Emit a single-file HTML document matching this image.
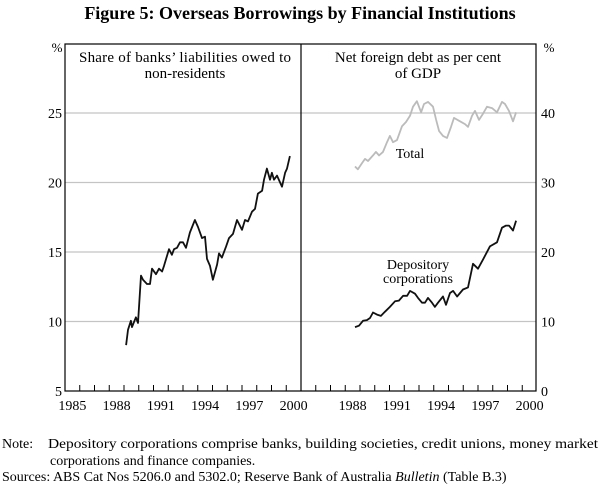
<!DOCTYPE html>
<html><head><meta charset="utf-8"><style>
body{margin:0;background:#fff;width:600px;height:491px;overflow:hidden;font-family:"Liberation Serif",serif;}
</style></head><body>
<svg width="600" height="491" xmlns="http://www.w3.org/2000/svg" font-family="Liberation Serif, serif">
<text x="300" y="19" text-anchor="middle" font-size="18" font-weight="bold">Figure 5: Overseas Borrowings by Financial Institutions</text>
<g id="grid"></g>
<g id="axes"></g>
<g id="series"></g>
<text x="185" y="62" text-anchor="middle" font-size="15"><tspan x="185" textLength="212">Share of banks’ liabilities owed to</tspan><tspan x="185" dy="16">non-residents</tspan></text>
<text x="418" y="62" text-anchor="middle" font-size="15"><tspan x="418">Net foreign debt as per cent</tspan><tspan x="418" dy="16">of GDP</tspan></text>
<text x="57" y="52" text-anchor="middle" font-size="13">%</text>
<text x="549" y="52" text-anchor="middle" font-size="13">%</text>
<text x="410" y="158" text-anchor="middle" font-size="14">Total</text>
<text x="418" y="269" text-anchor="middle" font-size="14"><tspan x="418">Depository</tspan><tspan x="418" dy="14">corporations</tspan></text>
<text x="2" y="448" font-size="14">Note:</text>
<text x="48" y="448" font-size="14" textLength="550" lengthAdjust="spacingAndGlyphs">Depository corporations comprise banks, building societies, credit unions, money market</text>
<text x="50" y="465" font-size="14">corporations and finance companies.</text>
<text x="2" y="481" font-size="14">Sources: ABS Cat Nos 5206.0 and 5302.0; Reserve Bank of Australia <tspan font-style="italic">Bulletin</tspan> (Table B.3)</text>
</svg>
<script>
const leftTicks=[5,10,15,20,25];
const rightTicks=[0,10,20,30,40];
const yearLabels=[1985,1988,1991,1994,1997,2000];
const rightYearLabels=[1988,1991,1994,1997,2000];
const bankDates=[1989.14,1989.27,1989.47,1989.54,1989.81,1989.95,1990.15,1990.29,1990.56,1990.76,1990.90,1991.17,1991.37,1991.58,1991.71,1992.05,1992.25,1992.39,1992.59,1992.80,1993.0,1993.20,1993.47,1993.81,1994.02,1994.29,1994.49,1994.63,1994.83,1995.03,1995.31,1995.44,1995.64,1995.92,1996.12,1996.39,1996.66,1997.0,1997.20,1997.41,1997.68,1997.88,1998.08,1998.36,1998.49,1998.69,1998.90,1999.03,1999.17,1999.37,1999.71,1999.92,2000.05,2000.25];
const bankValues=[8.3,9.4,10.05,9.6,10.3,9.9,13.3,13.0,12.7,12.7,13.8,13.4,13.8,13.6,14.0,15.2,14.8,15.2,15.3,15.7,15.7,15.3,16.4,17.3,16.8,16.0,16.1,14.5,14.0,13.0,14.1,14.9,14.6,15.4,16.0,16.3,17.3,16.6,17.3,17.2,17.9,18.1,19.2,19.4,20.2,21.0,20.2,20.7,20.2,20.5,19.7,20.7,21.0,21.9];
const totalDates=[1988.66,1988.86,1989.14,1989.34,1989.54,1989.88,1990.08,1990.29,1990.56,1990.83,1991.03,1991.24,1991.51,1991.85,1992.12,1992.39,1992.59,1992.86,1993.14,1993.34,1993.61,1993.95,1994.15,1994.36,1994.63,1994.90,1995.17,1995.37,1995.78,1996.12,1996.32,1996.59,1996.80,1997.07,1997.34,1997.61,1997.95,1998.29,1998.63,1998.83,1999.10,1999.37,1999.58];
const totalValues=[32.3,31.9,32.8,33.4,33.1,33.9,34.4,33.9,34.4,35.8,36.7,35.8,36.1,38.1,38.7,39.6,40.9,41.7,40.1,41.3,41.6,40.9,39.1,37.4,36.7,36.4,38.0,39.3,38.8,38.4,38.0,39.6,40.3,39.0,39.9,40.9,40.7,40.1,41.6,41.3,40.3,38.8,40.1];
const depDates=[1988.66,1988.93,1989.20,1989.47,1989.68,1989.88,1990.15,1990.42,1990.69,1991.03,1991.37,1991.64,1991.92,1992.19,1992.39,1992.73,1992.93,1993.20,1993.41,1993.61,1993.88,1994.08,1994.29,1994.63,1994.83,1995.10,1995.31,1995.58,1995.98,1996.32,1996.66,1997.0,1997.34,1997.81,1998.29,1998.63,1998.90,1999.10,1999.37,1999.58];
const depValues=[9.2,9.4,10.1,10.2,10.5,11.3,11.0,10.8,11.4,12.1,12.9,13.0,13.7,13.7,14.4,14.0,13.4,12.7,12.7,13.4,12.7,12.1,12.7,13.6,12.4,14.1,14.4,13.6,14.6,14.9,18.3,17.6,18.9,20.8,21.4,23.5,23.8,23.8,23.1,24.5];

const NS='http://www.w3.org/2000/svg';
const L=65,M=301,R=536,T=44,B=391,YW=(M-L)/16;
const xL=y=>L+(y-1985)*YW, xR=y=>M+(y-1985)*YW;
const yL=v=>B-(v-5)*(B-113)/20, yR=v=>B-v*(B-113)/40;
function mk(tag,attrs,parent){const e=document.createElementNS(NS,tag);for(const k in attrs)e.setAttribute(k,attrs[k]);document.getElementById(parent).appendChild(e);return e;}

leftTicks.forEach(v=>{
  if(v>5){const g=mk('line',{x1:L,x2:R,y1:yL(v),y2:yL(v),stroke:'#c4c4c4','stroke-width':1.2},'grid');
  
  }
  const t=mk('text',{x:62,y:yL(v)+5,'text-anchor':'end','font-size':14},'axes');t.textContent=v;
  
  
});
rightTicks.forEach(v=>{
  const t=mk('text',{x:541,y:yR(v)+5,'font-size':14},'axes');t.textContent=v;
  
  
});
const box=mk('rect',{x:L,y:T,width:R-L,height:B-T,fill:'none',stroke:'#000','stroke-width':1.2},'axes');


const div=mk('line',{x1:M,x2:M,y1:T,y2:B,stroke:'#000','stroke-width':1.2},'axes');


for(let i=1;i<16;i++){
  [L,M].forEach(o=>{const tk=mk('line',{x1:o+i*YW,x2:o+i*YW,y1:B,y2:B-6,stroke:'#000','stroke-width':1},'axes');
  
  });
}
yearLabels.forEach(y=>{const t=mk('text',{x:xL(y+0.5),y:B+19,'text-anchor':'middle','font-size':14},'axes');t.textContent=y;
  
  });
rightYearLabels.forEach(y=>{const t=mk('text',{x:xR(y+0.5),y:B+19,'text-anchor':'middle','font-size':14},'axes');t.textContent=y;
  
  });

function line(ds,vs,fx,fy,col,name){
  const d=ds.map((x,i)=>(i?'L':'M')+fx(x).toFixed(1)+','+fy(vs[i]).toFixed(1)).join('');
  const p=mk('path',{d:d,fill:'none',stroke:col,'stroke-width':1.8,'stroke-linejoin':'round'},'series');
  
  
}
line(bankDates,bankValues,xL,yL,'#111','bank-liabilities-line');
line(totalDates,totalValues,xR,yR,'#bbb','total-debt-line');
line(depDates,depValues,xR,yR,'#111','depository-line');
</script>
</body></html>
